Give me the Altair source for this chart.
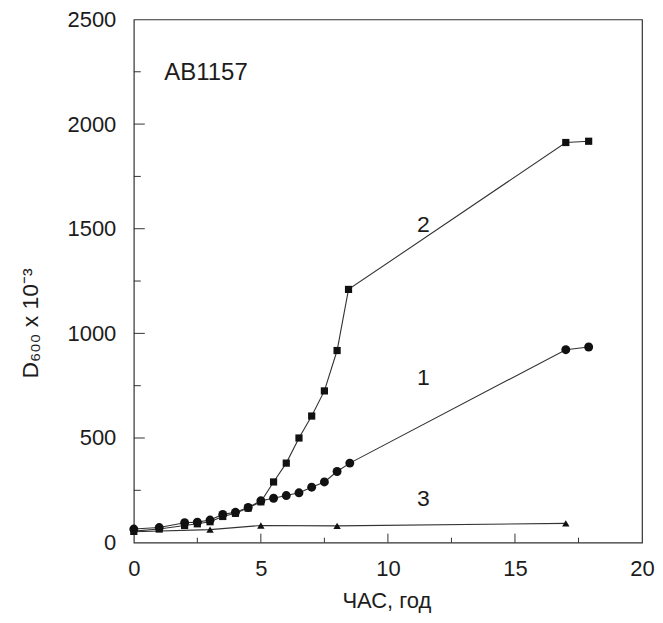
import altair as alt
import pandas as pd

# Series 1 (circles)
t1 = [0, 1, 2, 2.5, 3, 3.5, 4, 4.5, 5, 5.5, 6, 6.5, 7, 7.5, 8, 8.5, 17, 17.9]
y1 = [65, 72, 95, 98, 108, 135, 145, 168, 200, 212, 225, 238, 265, 290, 340, 380, 922, 935]
# Series 2 (squares)
t2 = [0, 1, 2, 2.5, 3, 3.5, 4, 4.5, 5, 5.5, 6, 6.5, 7, 7.5, 8, 8.45, 17, 17.9]
y2 = [55, 65, 82, 90, 100, 125, 140, 165, 195, 290, 380, 500, 605, 725, 918, 1210, 1912, 1918]
# Series 3 (triangles)
t3 = [0, 3, 5, 8, 17]
y3 = [52, 62, 82, 80, 92]

x_labels = [0, 5, 10, 15, 20]
y_labels = [0, 500, 1000, 1500, 2000, 2500]
x_major = [5, 10, 15]
x_minor = [2.5, 7.5, 12.5, 17.5]
y_major = [500, 1000, 1500, 2000]
y_minor = [250, 750, 1250, 1750, 2250]

curve_names = ["1", "2", "3"]
curve_label_x = [11.4, 11.4, 11.4]
curve_label_y = [787, 1517, 210]
strain = ["AB1157"]
strain_x = [1.2]
strain_y = [2243]

FONT = "Liberation Sans"
INK = "#1c1c1c"

xs = alt.Scale(domain=[0, 20], nice=False, zero=False)
ys = alt.Scale(domain=[0, 2500], nice=False, zero=False)

x_axis = alt.Axis(
    values=x_labels, format="d", title="ЧАС, год", grid=False, domain=False,
    ticks=False, tickSize=0, labelFontSize=22, labelFont=FONT, labelColor=INK,
    labelPadding=16, labelFlush=False, titleFont=FONT, titleFontSize=22,
    titleFontWeight="normal", titleColor=INK, titleBaseline="alphabetic",
    titleY=65, titleX=253, titleAlign="center")
y_axis = alt.Axis(
    values=y_labels, format="d", title="D₆₀₀ x 10⁻³", grid=False, domain=False,
    ticks=False, tickSize=0, labelFontSize=22, labelFont=FONT, labelColor=INK,
    labelPadding=18, labelFlush=False, titleFont=FONT, titleFontSize=23,
    titleFontWeight="normal", titleColor=INK, titleAngle=270,
    titleBaseline="middle", titleAlign="center", titleX=-103, titleY=304)

def X(field="t"):
    return alt.X(f"{field}:Q", scale=xs, axis=x_axis)

def Y(field="v"):
    return alt.Y(f"{field}:Q", scale=ys, axis=y_axis)

df = pd.concat([
    pd.DataFrame({"t": t1, "v": y1, "s": "1"}),
    pd.DataFrame({"t": t2, "v": y2, "s": "2"}),
    pd.DataFrame({"t": t3, "v": y3, "s": "3"}),
])

lines = alt.Chart(df).mark_line(color="#333333", strokeWidth=1.1).encode(
    x=X(), y=Y(), detail="s:N")

def pts(data, shape, size):
    return alt.Chart(data).mark_point(shape=shape, filled=True, opacity=1, color="#111111", size=size).encode(
        x=X(), y=Y())

p1 = pts(pd.DataFrame({"t": t1, "v": y1}), "circle", 80)
p2 = pts(pd.DataFrame({"t": t2, "v": y2}), "square", 52)
p3 = pts(pd.DataFrame({"t": t3, "v": y3}), "triangle-up", 55)

def xticks(vals, length):
    return alt.Chart(pd.DataFrame({"t": vals})).mark_rule(color="#333333", strokeWidth=1).encode(
        x=X(), y=alt.value(524), y2=alt.value(524 - length))

def yticks(vals, length):
    return alt.Chart(pd.DataFrame({"v": vals})).mark_rule(color="#333333", strokeWidth=1).encode(
        y=Y(), x=alt.value(0), x2=alt.value(length))

labels = alt.Chart(pd.DataFrame({"t": curve_label_x, "v": curve_label_y, "s": curve_names})).mark_text(
    font=FONT, fontSize=23, color=INK, align="center", baseline="middle").encode(
    x=X(), y=Y(), text="s:N")

strain_lbl = alt.Chart(pd.DataFrame({"t": strain_x, "v": strain_y, "s": strain})).mark_text(
    font=FONT, fontSize=24, color=INK, align="left", baseline="middle").encode(
    x=X(), y=Y(), text="s:N")

chart = alt.layer(
    lines, p1, p2, p3,
    xticks(x_major, 9), xticks(x_minor, 5),
    yticks(y_major, 11), yticks(y_minor, 7),
    labels, strain_lbl,
).properties(
    width=509, height=524,
    autosize=alt.AutoSizeParams(type="none"),
    padding={"left": 126, "top": 11, "right": 13, "bottom": 71},
    background="white",
).configure_view(stroke="#333333", strokeWidth=1.2)

chart.save("out.html", embed_options={"renderer": "svg", "actions": False})
